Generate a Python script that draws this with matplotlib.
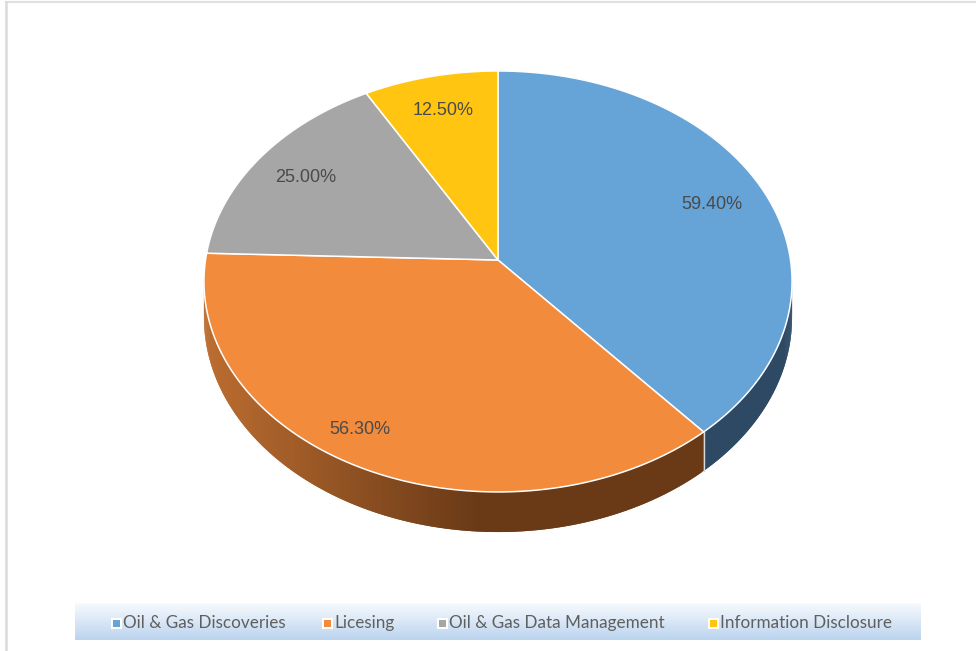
import numpy as np
import matplotlib.pyplot as plt
from matplotlib.patches import Polygon, Rectangle

# data
categories = ['Oil & Gas Discoveries', 'Licesing', 'Oil & Gas Data Management', 'Information Disclosure']
values = [59.40, 56.30, 25.00, 12.50]
value_labels = ['59.40%', '56.30%', '25.00%', '12.50%']

# styles
top_colors = ['#66A3D7', '#F28B3C', '#A6A6A6', '#FFC511']
label_r = [0.80, 0.87, 0.80, 0.80]
label_shift = [0.0, -4.3, 0.0, 0.0]

# 3d pie geometry (pixels) : apex, half axes, perspective, depth
CX, CY = 498.0, 260.0
A, B = 292.5, 208.3
K = 0.102
H = 36.0


def proj(theta_deg, r=1.0, drop=0.0):
    t = np.radians(theta_deg)
    u = r * np.cos(t)
    v = r * np.sin(t)
    w = 1 + K * v
    return CX + A * u / w, CY + (-B * v + drop) / w


def lerp(c1, c2, f):
    f = min(max(f, 0.0), 1.0)
    return tuple(a + (b - a) * f for a, b in zip(c1, c2))


def hexrgb(h):
    h = h.lstrip('#')
    return tuple(int(h[i:i + 2], 16) / 255 for i in (0, 2, 4))


def side_color(i, sx):
    if i == 0:
        return hexrgb('#2D4963')
    if i == 1:
        return lerp(hexrgb('#BC6D30'), hexrgb('#6A3A17'), (sx - 205) / 270)
    if i == 2:
        return hexrgb('#6B6B6B')
    return hexrgb('#A07800')


fig = plt.figure(figsize=(9.76, 6.51), dpi=100)
ax = fig.add_axes([0, 0, 1, 1])
ax.set_xlim(0, 976)
ax.set_ylim(651, 0)
ax.axis('off')

fracs = np.array(values) / sum(values) * 360
ends = 90 - np.cumsum(fracs)
starts = np.concatenate([[90], ends[:-1]])

# sides first (quads overlap so no seams show)
for i, (t1, t2) in enumerate(zip(starts, ends)):
    n = max(int(abs(t1 - t2) * 2), 4)
    ts = np.linspace(t1, t2, n + 1)
    tx, ty = proj(ts)
    bx, by = proj(ts, drop=H)
    for j in range(n):
        k = min(j + 2, n)
        c = side_color(i, (tx[j] + tx[j + 1]) / 2)
        quad = [(tx[j], ty[j]), (tx[k], ty[k]), (bx[k], by[k]), (bx[j], by[j])]
        ax.add_patch(Polygon(quad, closed=True, facecolor=c, edgecolor='none', zorder=1))

# light line on the visible side seam
x1, y1 = proj(ends[0])
x2, y2 = proj(ends[0], drop=H)
ax.plot([x1, x2], [y1, y2], color='#D8D8D8', lw=1.0, zorder=1.5)

# top faces
for i, (t1, t2) in enumerate(zip(starts, ends)):
    ts = np.linspace(t1, t2, 300)
    tx, ty = proj(ts)
    pts = [(CX, CY)] + list(zip(tx, ty))
    ax.add_patch(Polygon(pts, closed=True, facecolor=top_colors[i], edgecolor='white', lw=1.1,
                         joinstyle='round', zorder=2))

# value labels
for i, (t1, t2) in enumerate(zip(starts, ends)):
    mid = (t1 + t2) / 2 + label_shift[i]
    lx, ly = proj(mid, r=label_r[i])
    ax.text(lx, ly, value_labels[i], ha='center', va='center', fontsize=13,
            family='Liberation Sans', color='#4A4A4A', zorder=3)

# legend band
grad = np.linspace(0, 1, 64)[:, None, None]
c_top = np.array(hexrgb('#F7FAFE'))
c_bot = np.array(hexrgb('#BBD4EE'))
band = c_top * (1 - grad) + c_bot * grad
band = np.repeat(band, 2, axis=1)
ax.imshow(band, extent=[75, 921, 640, 603], aspect='auto', interpolation='bilinear', zorder=1)

legend_x = [116, 327, 442, 713]
for i, name in enumerate(categories):
    ax.add_patch(Rectangle((legend_x[i] - 5.5, 617.5), 11, 11, facecolor='white', edgecolor='none', zorder=3))
    ax.add_patch(Rectangle((legend_x[i] - 3.5, 619.5), 7, 7, facecolor=top_colors[i], edgecolor='none', zorder=4))
    ax.text(legend_x[i] + 7, 623, name, ha='left', va='center', fontsize=12.3, family='Lato',
            color='#5F5F5F', zorder=4)

# frame lines
ax.plot([6, 976], [2, 2], color='#E0E0E0', lw=1.5, zorder=0)
ax.plot([6, 6], [2, 651], color='#DADADA', lw=1.8, zorder=0)

fig.savefig('out.png', dpi=100)
